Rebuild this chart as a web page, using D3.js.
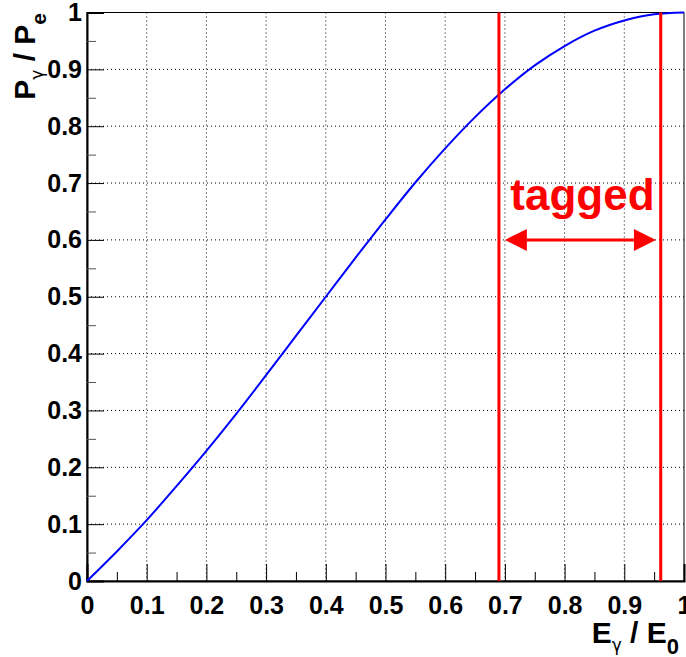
<!DOCTYPE html>
<html>
<head>
<meta charset="utf-8">
<script src="https://cdn.jsdelivr.net/npm/d3@7"></script>
<style>
  html, body { margin: 0; padding: 0; background: #fff; }
  svg { display: block; }
  text { font-family: "Liberation Sans", Arial, sans-serif; font-weight: bold; }
</style>
</head>
<body>
<svg id="chart" width="686" height="657"></svg>
<script>
// Photon-to-electron polarisation transfer vs. photon energy fraction
const energyFraction = [0, 0.05, 0.10, 0.15, 0.20, 0.25, 0.30, 0.35, 0.40, 0.45, 0.50,
                        0.55, 0.60, 0.65, 0.70, 0.75, 0.80, 0.85, 0.90, 0.95, 1.00];
const polarisation   = [0, 0.052, 0.107, 0.167, 0.229, 0.294, 0.362, 0.431, 0.500, 0.569, 0.636,
                        0.701, 0.761, 0.816, 0.865, 0.907, 0.941, 0.968, 0.986, 0.997, 1.000];

// Tagged energy window
const taggedRange = [0.690, 0.961];
const arrowRange  = [0.700, 0.953];
const arrowLevel  = 0.60;
const taggedLabel = "tagged";

const xTicks = [0, 0.1, 0.2, 0.3, 0.4, 0.5, 0.6, 0.7, 0.8, 0.9, 1];
const yTicks = [0, 0.1, 0.2, 0.3, 0.4, 0.5, 0.6, 0.7, 0.8, 0.9, 1];
const xMinor = d3.range(0.05, 1, 0.1);
const yMinor = d3.range(0.05, 1, 0.1);

const svg = d3.select("#chart");
const m = { left: 87, right: 684, top: 12.5, bottom: 581 };

const x = d3.scaleLinear().domain([0, 1]).range([m.left, m.right]);
const y = d3.scaleLinear().domain([0, 1]).range([m.bottom, m.top]);

const fmt = d => (d === 0 || d === 1) ? String(d) : d3.format(".1f")(d);
const tickFont = 25;

// dotted grid
const grid = svg.append("g");
grid.selectAll(".gx").data(xTicks.slice(1, -1)).join("line")
  .attr("x1", d => x(d)).attr("x2", d => x(d))
  .attr("y1", m.top).attr("y2", m.bottom)
  .attr("stroke", "#000").attr("stroke-width", 1).attr("stroke-dasharray", "1,3");
grid.selectAll(".gy").data(yTicks.slice(1, -1)).join("line")
  .attr("x1", m.left).attr("x2", m.right)
  .attr("y1", d => y(d)).attr("y2", d => y(d))
  .attr("stroke", "#000").attr("stroke-width", 1).attr("stroke-dasharray", "1,3");

// frame
svg.append("rect")
  .attr("x", m.left).attr("y", m.top)
  .attr("width", m.right - m.left).attr("height", m.bottom - m.top)
  .attr("fill", "none").attr("stroke", "#000").attr("stroke-width", 1);

// bottom axis: inward ticks
const xAxis = d3.axisBottom(x).tickValues(xTicks).tickSize(-17).tickFormat(fmt).tickPadding(15);
const gx = svg.append("g").attr("transform", `translate(0,${m.bottom})`).call(xAxis);
gx.select(".domain").attr("stroke", "#000").attr("stroke-width", 2);
gx.selectAll(".tick line").attr("stroke", "#000").attr("stroke-width", 1);
gx.selectAll(".tick text").attr("font-size", tickFont).attr("fill", "#000")
  .attr("font-family", "Liberation Sans, Arial, sans-serif").attr("font-weight", "bold");
svg.append("g").attr("transform", `translate(0,${m.bottom})`)
  .call(d3.axisBottom(x).tickValues(xMinor).tickSize(-9).tickFormat(""))
  .call(g => g.select(".domain").remove())
  .selectAll(".tick line").attr("stroke", "#000");

// left axis: inward ticks
const yAxis = d3.axisLeft(y).tickValues(yTicks).tickSize(-17).tickFormat(fmt).tickPadding(5);
const gy = svg.append("g").attr("transform", `translate(${m.left},0)`).call(yAxis);
gy.select(".domain").attr("stroke", "#000").attr("stroke-width", 2);
gy.selectAll(".tick line").attr("stroke", "#000").attr("stroke-width", 1);
gy.selectAll(".tick text").attr("font-size", tickFont).attr("fill", "#000")
  .attr("font-family", "Liberation Sans, Arial, sans-serif").attr("font-weight", "bold");
svg.append("g").attr("transform", `translate(${m.left},0)`)
  .call(d3.axisLeft(y).tickValues(yMinor).tickSize(-9).tickFormat(""))
  .call(g => g.select(".domain").remove())
  .selectAll(".tick line").attr("stroke", "#555");

// polarisation curve
const pts = energyFraction.map((e, i) => [e, polarisation[i]]);
svg.append("path")
  .datum(pts)
  .attr("fill", "none")
  .attr("stroke", "#0000ff")
  .attr("stroke-width", 2)
  .attr("d", d3.line().x(d => x(d[0])).y(d => y(d[1])).curve(d3.curveMonotoneX));

// tagged window boundaries
svg.selectAll(".edge").data(taggedRange).join("line")
  .attr("x1", d => x(d)).attr("x2", d => x(d))
  .attr("y1", y(1)).attr("y2", y(0))
  .attr("stroke", "#ff0000").attr("stroke-width", 3);

// double-headed arrow
const ay = y(arrowLevel);
const x0 = x(arrowRange[0]), x1 = x(arrowRange[1]);
const head = 22, half = 11;
svg.append("line")
  .attr("x1", x0 + head).attr("x2", x1 - head)
  .attr("y1", ay).attr("y2", ay)
  .attr("stroke", "#ff0000").attr("stroke-width", 3);
svg.append("path")
  .attr("d", `M${x0},${ay} L${x0 + head},${ay - half} L${x0 + head},${ay + half} Z`)
  .attr("fill", "#ff0000");
svg.append("path")
  .attr("d", `M${x1},${ay} L${x1 - head},${ay - half} L${x1 - head},${ay + half} Z`)
  .attr("fill", "#ff0000");

svg.append("text")
  .attr("x", (x0 + x1) / 2 + 2).attr("y", y(0.653))
  .attr("text-anchor", "middle")
  .attr("font-size", 44).attr("fill", "#ff0000")
  .text(taggedLabel);

// axis titles
const greek = sel => sel.attr("font-family", "DejaVu Sans, sans-serif").attr("font-weight", "normal");

const xt = svg.append("text")
  .attr("x", 679).attr("y", 643)
  .attr("text-anchor", "end").attr("font-size", 30).attr("fill", "#000");
xt.append("tspan").text("E");
xt.append("tspan").attr("font-size", 17).attr("dy", 8).text("γ").call(greek);
xt.append("tspan").attr("dy", -8).text(" / E");
xt.append("tspan").attr("font-size", 22).attr("dy", 11).text("0");

const yt = svg.append("text")
  .attr("transform", `translate(35,13) rotate(-90)`)
  .attr("text-anchor", "end").attr("font-size", 30).attr("fill", "#000");
yt.append("tspan").text("P");
yt.append("tspan").attr("font-size", 17).attr("dy", 8).text("γ").call(greek);
yt.append("tspan").attr("dy", -8).text(" / P");
yt.append("tspan").attr("font-size", 21).attr("dy", 11).text("e");
</script>
</body>
</html>
